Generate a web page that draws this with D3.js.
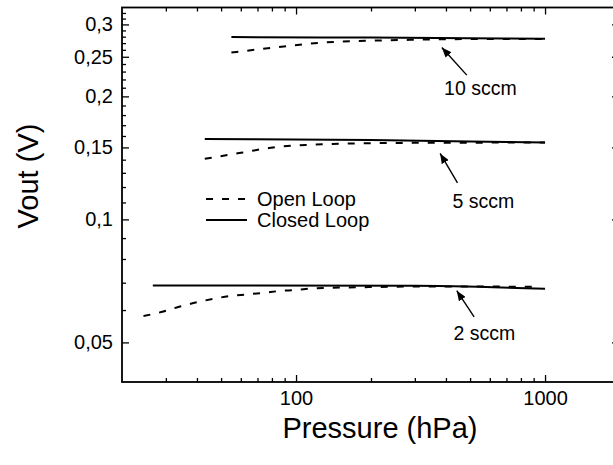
<!DOCTYPE html>
<html>
<head>
<meta charset="utf-8">
<script src="https://cdn.jsdelivr.net/npm/d3@7"></script>
<style>
  body { margin: 0; background: #fff; }
  svg { display: block; font-family: "Liberation Sans", Arial, sans-serif; }
</style>
</head>
<body>
<div id="chart"></div>
<script>
// Pressure (hPa) / Vout (V) pairs
const open10 = [[55, 0.256], [72, 0.261], [95, 0.266], [125, 0.2705], [165, 0.273], [218, 0.274], [287, 0.275], [380, 0.2758], [550, 0.2763], [1000, 0.2765]];
const closed10 = [[55, 0.2793], [200, 0.2785], [500, 0.2775], [1000, 0.2766]];
const open5 = [[43, 0.1407], [60, 0.1455], [81, 0.150], [111, 0.1522], [150, 0.1531], [204, 0.1537], [400, 0.154], [1000, 0.1542]];
const closed5 = [[43, 0.1572], [200, 0.1564], [500, 0.1552], [1000, 0.1543]];
const open2 = [[24.4, 0.058], [29.3, 0.0595], [34.2, 0.0612], [40, 0.0627], [46.5, 0.0639], [54, 0.0649], [63, 0.0655], [74, 0.0661], [86, 0.0668], [100, 0.0672], [117, 0.0678], [150, 0.0681], [200, 0.0683], [300, 0.0685], [500, 0.0685], [950, 0.0684]];
const closed2 = [[26.6, 0.0689], [300, 0.0688], [430, 0.0686], [1000, 0.0676]];

const xMajor = [100, 1000];
const xMinor = [30, 40, 50, 60, 70, 80, 90, 200, 300, 400, 500, 600, 700, 800, 900];
const yMajor = [0.05, 0.1, 0.15, 0.2, 0.25, 0.3];
const yMinor = [0.06, 0.07, 0.08, 0.09, 0.11, 0.12, 0.13, 0.14, 0.16, 0.17, 0.18, 0.19,
  0.21, 0.22, 0.23, 0.24, 0.26, 0.27, 0.28, 0.29, 0.31, 0.32];

// label, arrow tip, arrow tail, text start (all in data units)
const notes = [
  { label: "10 sccm", tip: [385, 0.2635], tail: [485, 0.2254], text: [393, 0.2014] },
  { label: "5 sccm", tip: [379, 0.145], tail: [445, 0.1229], text: [425, 0.1064] },
  { label: "2 sccm", tip: [442, 0.0669], tail: [519, 0.0577], text: [429, 0.0506] },
];

const legendItems = [
  { label: "Open Loop", dash: "7,9" },
  { label: "Closed Loop", dash: null },
];

const width = 613, height = 465;
const plot = { left: 122, right: 620, top: 7.5, bottom: 382 };

const svg = d3.select("#chart").append("svg")
  .attr("width", width).attr("height", height);

const x = d3.scaleLog().domain([20, 2000]).range([plot.left, plot.right]);
const y = d3.scaleLog().domain([0.04, 0.33]).range([plot.bottom, plot.top]);

const fmt = v => String(v).replace(".", ",");

const defs = svg.append("defs");
defs.append("marker")
  .attr("id", "arrow")
  .attr("viewBox", "0 0 10 8")
  .attr("refX", 10).attr("refY", 4)
  .attr("markerWidth", 10).attr("markerHeight", 8)
  .attr("markerUnits", "userSpaceOnUse")
  .attr("orient", "auto")
  .append("path").attr("d", "M0,0L10,4L0,8Z").attr("fill", "#000");

function styleAxis(g) {
  g.select(".domain").remove();
  g.selectAll("line").attr("stroke", "#000").attr("stroke-width", 1.3);
  g.selectAll("text").attr("fill", "#000").attr("font-size", 20);
}

// bottom axis
svg.append("g").attr("transform", `translate(0,${plot.bottom})`)
  .call(d3.axisBottom(x).tickValues(xMajor).tickSizeInner(-7).tickSizeOuter(0).tickPadding(9).tickFormat(d3.format("d")))
  .call(styleAxis);
svg.append("g").attr("transform", `translate(0,${plot.bottom})`)
  .call(d3.axisBottom(x).tickValues(xMinor).tickSizeInner(-4).tickSizeOuter(0).tickFormat(""))
  .call(styleAxis);
// top axis
svg.append("g").attr("transform", `translate(0,${plot.top})`)
  .call(d3.axisTop(x).tickValues(xMajor).tickSizeInner(-7).tickSizeOuter(0).tickFormat(""))
  .call(styleAxis);
svg.append("g").attr("transform", `translate(0,${plot.top})`)
  .call(d3.axisTop(x).tickValues(xMinor).tickSizeInner(-4).tickSizeOuter(0).tickFormat(""))
  .call(styleAxis);
// left axis
svg.append("g").attr("transform", `translate(${plot.left},0)`)
  .call(d3.axisLeft(y).tickValues(yMajor).tickSizeInner(-7).tickSizeOuter(0).tickPadding(9).tickFormat(fmt))
  .call(styleAxis);
svg.append("g").attr("transform", `translate(${plot.left},0)`)
  .call(d3.axisLeft(y).tickValues(yMinor).tickSizeInner(-4).tickSizeOuter(0).tickFormat(""))
  .call(styleAxis);
// right axis
svg.append("g").attr("transform", `translate(${plot.right},0)`)
  .call(d3.axisRight(y).tickValues(yMajor).tickSizeInner(-8).tickSizeOuter(0).tickFormat(""))
  .call(styleAxis);
svg.append("g").attr("transform", `translate(${plot.right},0)`)
  .call(d3.axisRight(y).tickValues(yMinor).tickSizeInner(-4).tickSizeOuter(0).tickFormat(""))
  .call(styleAxis);

// frame
svg.append("rect")
  .attr("x", plot.left).attr("y", plot.top)
  .attr("width", plot.right - plot.left).attr("height", plot.bottom - plot.top)
  .attr("fill", "none").attr("stroke", "#000").attr("stroke-width", 1.8);

// curves
const line = d3.line().x(d => x(d[0])).y(d => y(d[1])).curve(d3.curveMonotoneX);
const series = [
  { data: open10, dash: "7,9" }, { data: closed10, dash: null },
  { data: open5, dash: "7,9" }, { data: closed5, dash: null },
  { data: open2, dash: "7,9" }, { data: closed2, dash: null },
];
svg.append("g").selectAll("path")
  .data(series)
  .join("path")
  .attr("d", d => line(d.data))
  .attr("fill", "none")
  .attr("stroke", "#000")
  .attr("stroke-width", 2)
  .attr("stroke-dasharray", d => d.dash);

// annotations
const ann = svg.append("g");
ann.selectAll("line")
  .data(notes)
  .join("line")
  .attr("x1", d => x(d.tail[0])).attr("y1", d => y(d.tail[1]))
  .attr("x2", d => x(d.tip[0])).attr("y2", d => y(d.tip[1]))
  .attr("stroke", "#000").attr("stroke-width", 1.4)
  .attr("marker-end", "url(#arrow)");
ann.selectAll("text")
  .data(notes)
  .join("text")
  .attr("x", d => x(d.text[0])).attr("y", d => y(d.text[1]))
  .attr("font-size", 19.5)
  .text(d => d.label);

// legend
const leg = svg.append("g").attr("transform", "translate(206,199)");
const rows = leg.selectAll("g").data(legendItems).join("g")
  .attr("transform", (d, i) => `translate(0,${i * 21})`);
rows.append("line")
  .attr("x1", 0).attr("x2", 41)
  .attr("stroke", "#000").attr("stroke-width", 2)
  .attr("stroke-dasharray", d => d.dash);
rows.append("text")
  .attr("x", 51).attr("y", 7)
  .attr("font-size", 20)
  .text(d => d.label);

// axis titles
svg.append("text")
  .attr("x", 380).attr("y", 438)
  .attr("text-anchor", "middle")
  .attr("font-size", 29)
  .text("Pressure (hPa)");
svg.append("text")
  .attr("transform", "translate(38,176) rotate(-90)")
  .attr("text-anchor", "middle")
  .attr("font-size", 29)
  .text("Vout (V)");
</script>
</body>
</html>
